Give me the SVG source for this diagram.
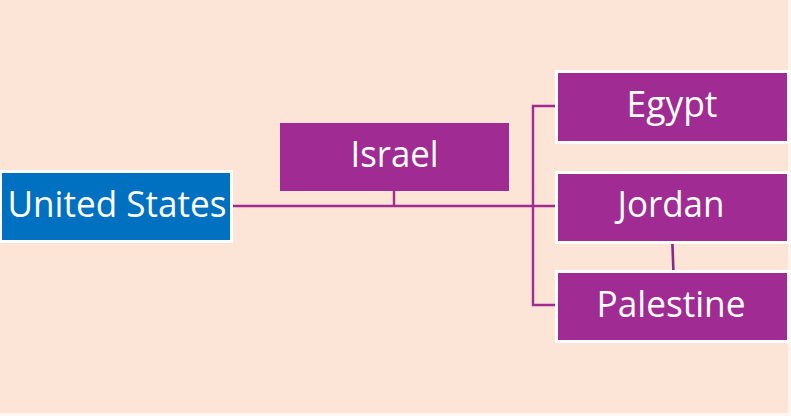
<svg xmlns="http://www.w3.org/2000/svg" width="791" height="416" viewBox="0 0 791 416">
  <style>
    .bg { fill: #FCE4D6; }
    .purple { fill: #A02B93; }
    .boxed { stroke: #FFFFFF; stroke-width: 3; }
    .blue { fill: #0070C0; }
    .lbl { font-family: "Open Sans", "Noto Sans", "Liberation Sans", sans-serif; font-size: 36px; fill: #FFFFFF; text-anchor: middle; }
    .conn { stroke: #A02B93; stroke-width: 2.4; fill: none; }
  </style>
  <rect class="bg" x="0" y="0" width="791" height="416"/>
  <rect x="788" y="0" width="3" height="416" fill="#FDF5F0"/>
  <rect x="0" y="413" width="791" height="3" fill="#FDF5F0"/>

  <g id="connectors">
    <line class="conn" x1="233" y1="206" x2="556" y2="206"/>
    <line class="conn" x1="394" y1="190" x2="394" y2="206"/>
    <polyline class="conn" points="556,106 533,106 533,305 556,305"/>
    <line x1="672.3" y1="241" x2="673.5" y2="273" stroke="#86298C" stroke-width="2.6"/>
  </g>

  <g id="united-states">
    <rect class="blue boxed" x="0.5" y="171.5" width="231" height="70"/>
    <text class="lbl" x="117" y="217" textLength="219" lengthAdjust="spacingAndGlyphs">United States</text>
  </g>

  <g id="israel">
    <rect class="purple" x="280" y="123" width="229" height="68"/>
    <text class="lbl" x="394.5" y="167.3" textLength="88" lengthAdjust="spacingAndGlyphs">Israel</text>
  </g>

  <g id="egypt">
    <rect class="purple boxed" x="556.5" y="71.5" width="232" height="71"/>
    <text class="lbl" x="672" y="117" textLength="91" lengthAdjust="spacingAndGlyphs">Egypt</text>
  </g>

  <g id="jordan">
    <rect class="purple boxed" x="556.5" y="172.5" width="232" height="70"/>
    <text class="lbl" x="671" y="217" textLength="107" lengthAdjust="spacingAndGlyphs">Jordan</text>
  </g>

  <g id="palestine">
    <rect class="purple boxed" x="556.5" y="271.5" width="232" height="70"/>
    <text class="lbl" x="671" y="317" textLength="149" lengthAdjust="spacingAndGlyphs">Palestine</text>
  </g>
</svg>
